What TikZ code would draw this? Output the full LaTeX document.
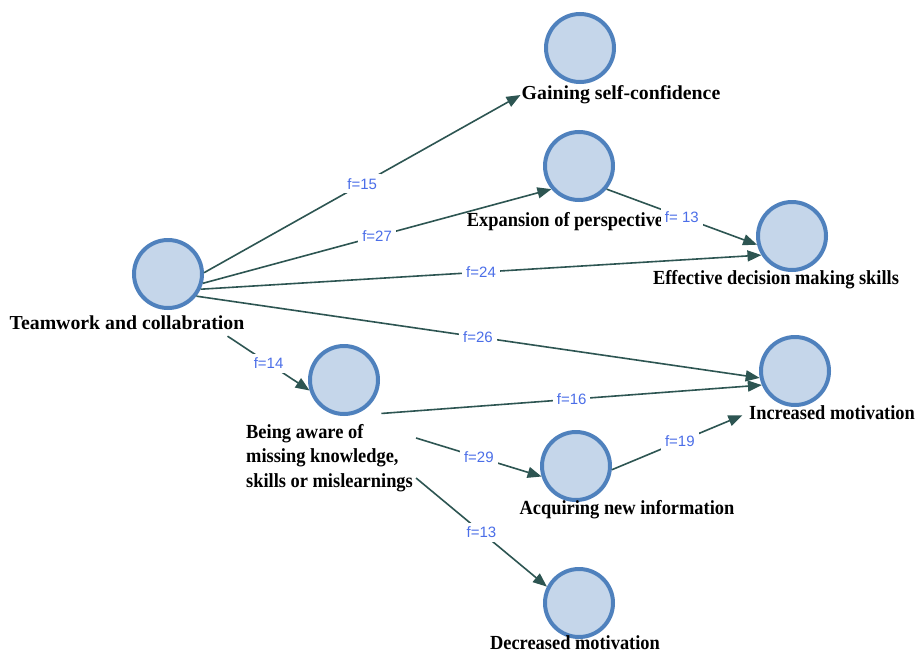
\documentclass[tikz,border=0pt]{standalone}
\usepackage{fontspec}
\setmainfont{Liberation Serif}
\newfontfamily\lblfont{Liberation Sans}
\newfontfamily\narrowfont[FakeStretch=0.92]{Liberation Serif}
\usetikzlibrary{arrows.meta,calc}
\definecolor{cfill}{HTML}{C5D6EA}
\definecolor{cline}{HTML}{4F81BD}
\definecolor{edgec}{HTML}{2D5552}
\definecolor{flab}{HTML}{4B6EE8}
\begin{document}
\begin{tikzpicture}[x=1pt,y=-1pt,
  circ/.style={circle,draw=cline,fill=cfill,line width=4pt,minimum size=68pt,inner sep=0pt},
  nlabel/.style={font=\fontsize{19.8}{24.5}\selectfont\bfseries,inner sep=1pt,text=black},
  nnarrow/.style={font=\narrowfont\fontsize{20}{24.5}\selectfont\bfseries,inner sep=1pt,text=black},
  conn/.style={draw=edgec,line width=1.6pt,-{Triangle[length=14pt,width=11pt]}},
  flbl/.style={font=\lblfont\fontsize{15}{18}\selectfont,text=flab,fill=white,inner sep=4pt}]
\useasboundingbox[fill=white] (0,0) rectangle (915,653);
% circles
\node[circ] (tw) at (168,274) {};
\node[circ] (gs) at (580,48) {};
\node[circ] (ex) at (579,166) {};
\node[circ] (ef) at (792,236) {};
\node[circ] (im) at (795,371) {};
\node[circ] (ba) at (344,380) {};
\node[circ] (aq) at (576,466) {};
\node[circ] (dm) at (579,603) {};
% names
\node[nlabel] (twl) at (127,323) {Teamwork and collabration};
\node[nlabel] (gsl) at (621,95) {Gaining self-confidence};
\node[nnarrow] (exl) at (565,222) {Expansion of perspective};
\node[nnarrow] (efl) at (776,280) {Effective decision making skills};
\node[nnarrow] (iml) at (832,413) {Increased motivation};
\node[nnarrow,align=left,anchor=west] (bal) at (245,458) {Being aware of\\missing knowledge,\\skills or mislearnings};
\node[nnarrow] (aql) at (627,510) {Acquiring new information};
\node[nnarrow] (dml) at (575,643) {Decreased motivation};
% connectors
\draw[conn] (tw.2) -- (gsl.west) node[flbl,midway] {f=15};
\draw[conn] (tw.-15) -- (ex.220) node[flbl,midway] {f=27};
\draw[conn] (ex.-40) -- (ef.194) node[flbl,midway] {f= 13};
\draw[conn] (tw.-25) -- (ef.212) node[flbl,midway] {f=24};
\draw[conn] (tw.-38) -- (im.191) node[flbl,midway] {f=26};
\draw[conn] ($(twl.south east)+(-18,5)$) -- (ba.197) node[flbl,midway] {f=14};
\draw[conn] ($(ba.-45)+(12,8)$) -- (im.203) node[flbl,midway] {f=16};
\draw[conn] ($(bal.east)+(2,-20)$) -- (aq.197) node[flbl,midway] {f=29};
\draw[conn,shorten >=6pt] (aq.-6) -- (iml.west) node[flbl,midway] {f=19};
\draw[conn] ($(bal.east)+(2,20)$) -- (dm.153) node[flbl,midway] {f=13};
\end{tikzpicture}
\end{document}
